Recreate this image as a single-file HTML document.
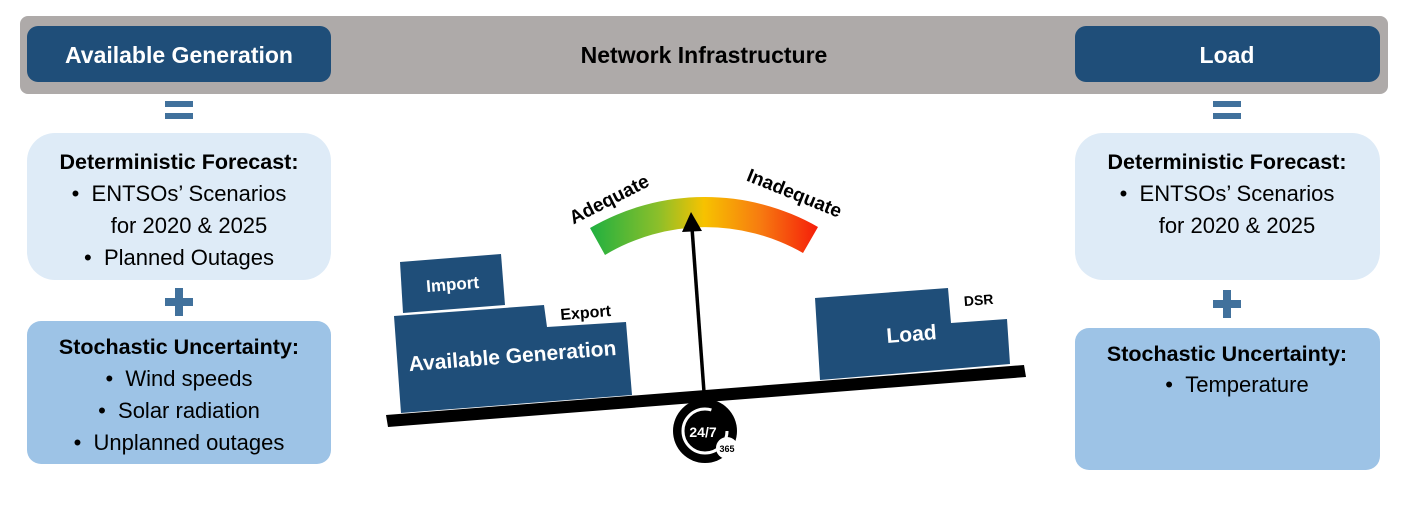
<!DOCTYPE html>
<html><head><meta charset="utf-8"><style>
html,body{margin:0;padding:0;background:#fff;}
svg{display:block;font-family:"Liberation Sans",sans-serif;}
</style></head><body>
<svg width="1411" height="505" viewBox="0 0 1411 505" xmlns="http://www.w3.org/2000/svg">
<defs>
<linearGradient id="g" x1="590" y1="0" x2="818" y2="0" gradientUnits="userSpaceOnUse">
<stop offset="0" stop-color="#1fb040"/><stop offset="0.3" stop-color="#8cbf2a"/><stop offset="0.5" stop-color="#f7c200"/><stop offset="0.75" stop-color="#f77a10"/><stop offset="1" stop-color="#f51d0a"/>
</linearGradient>
</defs>
<rect x="20" y="16" width="1368" height="78" rx="8" fill="#aeaaa9"/>
<rect x="27" y="26" width="304" height="56" rx="11" fill="#1f4e79"/>
<rect x="1075" y="26" width="305" height="56" rx="11" fill="#1f4e79"/>
<text x="179" y="63" text-anchor="middle" font-size="23" font-weight="bold" fill="#fff">Available Generation</text>
<text x="704" y="63" text-anchor="middle" font-size="23" font-weight="bold" fill="#000">Network Infrastructure</text>
<text x="1227" y="63" text-anchor="middle" font-size="23" font-weight="bold" fill="#fff">Load</text>
<rect x="165" y="101" width="28" height="6" fill="#41719c"/><rect x="165" y="113" width="28" height="6" fill="#41719c"/>
<rect x="1213" y="101" width="28" height="6" fill="#41719c"/><rect x="1213" y="113" width="28" height="6" fill="#41719c"/>
<rect x="165" y="298" width="28" height="8" fill="#41719c"/><rect x="175" y="288" width="8" height="28" fill="#41719c"/>
<rect x="1213" y="300" width="28" height="8" fill="#41719c"/><rect x="1223" y="290" width="8" height="28" fill="#41719c"/>
<rect x="27" y="133" width="304" height="147" rx="28" fill="#deebf7"/>
<rect x="27" y="321" width="304" height="143" rx="14" fill="#9dc3e6"/>
<g font-size="22" text-anchor="middle" fill="#000">
<text x="179" y="169" font-weight="bold" font-size="21.5">Deterministic Forecast:</text>
<text x="179" y="201">•&#160;&#160;ENTSOs’ Scenarios</text>
<text x="189" y="233">for 2020 &amp; 2025</text>
<text x="179" y="265">•&#160;&#160;Planned Outages</text>
<text x="179" y="354" font-weight="bold" font-size="21.5">Stochastic Uncertainty:</text>
<text x="179" y="386">•&#160;&#160;Wind speeds</text>
<text x="179" y="418">•&#160;&#160;Solar radiation</text>
<text x="179" y="450">•&#160;&#160;Unplanned outages</text>
</g>
<rect x="1075" y="133" width="305" height="147" rx="28" fill="#deebf7"/>
<rect x="1075" y="328" width="305" height="142" rx="14" fill="#9dc3e6"/>
<g font-size="22" text-anchor="middle" fill="#000">
<text x="1227" y="169" font-weight="bold" font-size="21.5">Deterministic Forecast:</text>
<text x="1227" y="201">•&#160;&#160;ENTSOs’ Scenarios</text>
<text x="1237" y="233">for 2020 &amp; 2025</text>
<text x="1227" y="361" font-weight="bold" font-size="21.5">Stochastic Uncertainty:</text>
<text x="1237" y="392">•&#160;&#160;Temperature</text>
</g>
<path d="M590,228 A228,228 0 0 1 818,227 L803,253 A196,196 0 0 0 605,255 Z" fill="url(#g)"/>
<text transform="translate(612,205) rotate(-27)" text-anchor="middle" font-size="19" font-weight="bold">Adequate</text>
<text transform="translate(792,199) rotate(22)" text-anchor="middle" font-size="19" font-weight="bold">Inadequate</text>
<polygon points="400,262 501,254 505,305 403,313" fill="#1f4e79"/>
<text transform="translate(453,290) rotate(-4.5)" text-anchor="middle" font-size="17" font-weight="bold" fill="#fff">Import</text>
<polygon points="394,316 544,305 547,327 626,322 632,395 401,413" fill="#1f4e79"/>
<text transform="translate(586,318) rotate(-4.5)" text-anchor="middle" font-size="16" font-weight="bold">Export</text>
<text transform="translate(513,363) rotate(-4.5)" text-anchor="middle" font-size="21" font-weight="bold" fill="#fff">Available Generation</text>
<polygon points="815,298 948,288 951,323 1007,319 1010,364 820,380" fill="#1f4e79"/>
<text transform="translate(979,305) rotate(-4.5)" text-anchor="middle" font-size="14" font-weight="bold">DSR</text>
<text transform="translate(912,341) rotate(-4.5)" text-anchor="middle" font-size="21" font-weight="bold" fill="#fff">Load</text>
<polygon points="386,415 1024,365 1026,377 388,427" fill="#000"/>
<line x1="704" y1="392" x2="692" y2="228" stroke="#000" stroke-width="3.5"/>
<polygon points="691,212 682,232 702,231" fill="#000"/>
<circle cx="705" cy="431" r="32" fill="#000"/>
<circle cx="705" cy="431" r="22" fill="none" stroke="#fff" stroke-width="3" stroke-dasharray="110 30"/>
<text x="703" y="437" text-anchor="middle" font-size="14" font-weight="bold" fill="#fff">24/7</text>
<circle cx="727" cy="448" r="11" fill="#fff"/>
<text x="727" y="452" text-anchor="middle" font-size="9" font-weight="bold">365</text>
</svg>
</body></html>
